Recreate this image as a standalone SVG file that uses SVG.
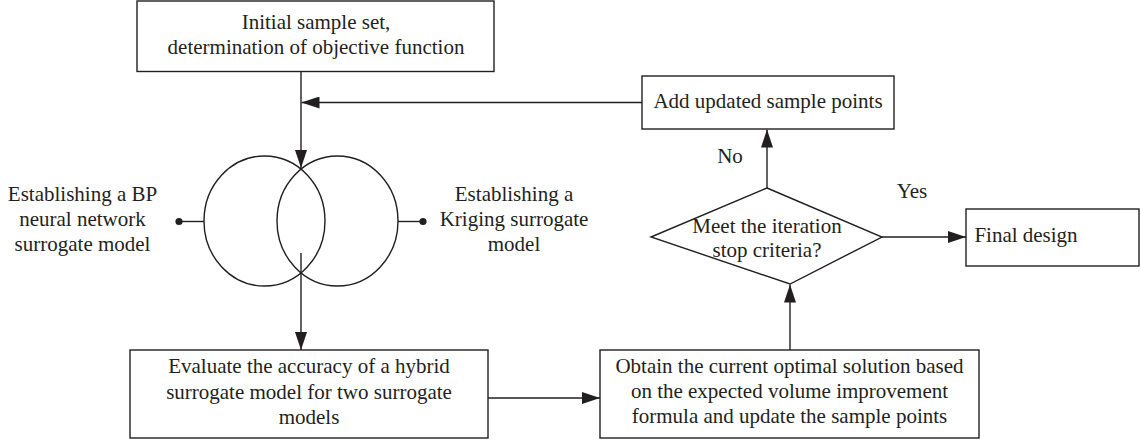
<svg xmlns="http://www.w3.org/2000/svg" width="1141" height="443" viewBox="0 0 1141 443">
<defs>
<style>
.box{fill:#fff;stroke:#231f20;stroke-width:1.4}
.ln{fill:none;stroke:#231f20;stroke-width:1.4}
.t{font-family:"Liberation Serif","Times New Roman",serif;font-size:21px;fill:#231f20;text-anchor:middle}
</style>
<marker id="ah" viewBox="0 0 18 12" refX="18" refY="6" markerWidth="18" markerHeight="12" markerUnits="userSpaceOnUse" orient="auto">
<path d="M0,0 L18,6 L0,12 Z" fill="#231f20"/>
</marker>
</defs>
<rect width="1141" height="443" fill="#fff"/>
<g id="n-initial">
<rect class="box" x="137" y="1" width="357" height="70.5"/>
<text class="t" x="316" y="29">Initial sample set,</text>
<text class="t" x="316" y="54">determination of objective function</text>
</g>
<g id="n-circles">
<ellipse class="ln" cx="264.5" cy="221" rx="60.5" ry="65"/>
<ellipse class="ln" cx="337.5" cy="221" rx="60.5" ry="65"/>
</g>
<g id="n-bp">
<line class="ln" x1="179" y1="221.5" x2="204" y2="221.5"/>
<circle cx="179" cy="221.5" r="3.6" fill="#231f20"/>
<text class="t" x="82.5" y="201">Establishing a BP</text>
<text class="t" x="82.5" y="226">neural network</text>
<text class="t" x="82.5" y="251">surrogate model</text>
</g>
<g id="n-kriging">
<line class="ln" x1="398" y1="221.5" x2="423" y2="221.5"/>
<circle cx="423" cy="221.5" r="3.6" fill="#231f20"/>
<text class="t" x="514" y="201">Establishing a</text>
<text class="t" x="514" y="226">Kriging surrogate</text>
<text class="t" x="514" y="251">model</text>
</g>
<g id="n-evaluate">
<rect class="box" x="130" y="350" width="358" height="88"/>
<text class="t" x="309" y="373">Evaluate the accuracy of a hybrid</text>
<text class="t" x="309" y="399">surrogate model for two surrogate</text>
<text class="t" x="309" y="424">models</text>
</g>
<g id="n-obtain">
<rect class="box" x="600" y="350" width="379" height="88"/>
<text class="t" x="789.5" y="373">Obtain the current optimal solution based</text>
<text class="t" x="789.5" y="398">on the expected volume improvement</text>
<text class="t" x="789.5" y="423">formula and update the sample points</text>
</g>
<g id="n-meet">
<path class="box" d="M767,188 L882,237 L790,284 L651,237 Z"/>
<text class="t" x="767" y="233">Meet the iteration</text>
<text class="t" x="767" y="257">stop criteria?</text>
</g>
<g id="n-add">
<rect class="box" x="642" y="76" width="252" height="53"/>
<text class="t" x="768" y="108">Add updated sample points</text>
</g>
<g id="n-final">
<rect class="box" x="966" y="209" width="173" height="57"/>
<text class="t" x="1026" y="242">Final design</text>
</g>
<g id="connectors">
<line class="ln" x1="301" y1="71.5" x2="301" y2="168" marker-end="url(#ah)"/>
<line class="ln" x1="642" y1="102.5" x2="301.5" y2="102.5" marker-end="url(#ah)"/>
<line class="ln" x1="301" y1="253" x2="301" y2="350" marker-end="url(#ah)"/>
<line class="ln" x1="488" y1="398" x2="600" y2="398" marker-end="url(#ah)"/>
<line class="ln" x1="790" y1="350" x2="790" y2="284.5" marker-end="url(#ah)"/>
<line class="ln" x1="767" y1="188" x2="767" y2="129.5" marker-end="url(#ah)"/>
<line class="ln" x1="882" y1="237" x2="966" y2="237" marker-end="url(#ah)"/>
<text class="t" x="730" y="163">No</text>
<text class="t" x="912" y="198">Yes</text>
</g>
</svg>
